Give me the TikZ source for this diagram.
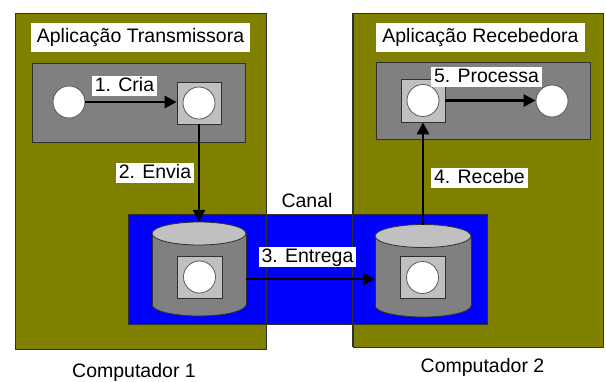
\documentclass[tikz,border=0pt]{standalone}
\usepackage{fontspec}
\setmainfont{Liberation Sans}
\usetikzlibrary{arrows.meta}
\definecolor{olivebox}{HTML}{808000}
\definecolor{procgray}{HTML}{808080}
\definecolor{lightgray2}{HTML}{C0C0C0}
\definecolor{chanblue}{HTML}{0000FF}
\definecolor{edgegray}{HTML}{303030}

% cylinder (message queue): #1 centre x, #2 top end y, #3 bottom end y, #4 half width
\newcommand{\drum}[4]{%
  \draw[outline,fill=procgray] (#1,#3) ellipse [x radius=#4, y radius=11.5];
  \fill[procgray] (#1-#4,#2) rectangle (#1+#4,#3);
  \draw[outline] (#1-#4,#2) -- (#1-#4,#3) (#1+#4,#2) -- (#1+#4,#3);
  \draw[outline,fill=lightgray2] (#1,#2) ellipse [x radius=#4, y radius=11.5];
}

\begin{document}
\begin{tikzpicture}[x=1pt,y=-1pt,
  font=\fontsize{19.5}{22}\selectfont,
  outline/.style={draw=edgegray,line width=0.8pt},
  block/.style={rectangle,inner sep=0pt},
  computer/.style={block,outline,fill=olivebox},
  process/.style={block,outline,fill=procgray},
  msgbox/.style={block,outline,fill=lightgray2,minimum width=44,minimum height=42},
  msg/.style={circle,draw=edgegray!80,line width=0.8pt,fill=white,inner sep=0pt,minimum size=32},
  tag/.style={fill=white,inner xsep=3pt,inner ysep=1.5pt,text height=14pt,text depth=3pt},
  title/.style={fill=white,inner xsep=6pt,inner ysep=5pt,text height=14pt,text depth=4.5pt},
  flow/.style={line width=2.9pt,-{Triangle[length=12pt,width=12pt]}}
]
\useasboundingbox (0,0) rectangle (606,381);
\fill[white] (0,0) rectangle (606,381);

% computers
\node[computer,minimum width=251,minimum height=336] (pc1) at (140.5,181) {};
\node[computer,minimum width=250,minimum height=334] (pc2) at (478,180) {};

% channel
\node[block,outline,fill=chanblue,minimum width=359,minimum height=110] (canal) at (307.5,269) {};
\draw[outline] (pc1.north east) -- (pc1.south east);
\draw[outline] (pc2.north west) -- (pc2.south west);
\node (canallbl) at (307,201) {Canal};

% applications
\node[title] (app1) at (140.5,37.5) {Aplicação Transmissora};
\node[title] (app2) at (480.5,37.5) {Aplicação Recebedora};
\node[process,minimum width=213,minimum height=79] (proc1) at (138.5,102.5) {};
\node[process,minimum width=214,minimum height=77] (proc2) at (483,100.5) {};

% messages in the sending application
\node[msg] (m1) at (69,102) {};
\node[msgbox] (sq1) at (199,103) {};
\node[msg] (m2) at (sq1) {};

% messages in the receiving application
\node[msgbox,minimum height=43] (sq2) at (423,100.5) {};
\node[msg] (m3) at (sq2) {};
\node[msg] (m4) at (552,101) {};

% queues
\drum{199}{233.5}{304.5}{47}
\drum{423}{236}{305.5}{48}
\node[block,minimum width=94,minimum height=94] (qA) at (199,269) {};
\node[block,minimum width=96,minimum height=92] (qB) at (423,271) {};
\node[msgbox,minimum width=45] (sqA) at (199.5,277) {};
\node[msg] (mA) at (sqA) {};
\node[msgbox,minimum width=45] (sqB) at (422.5,277.5) {};
\node[msg] (mB) at (sqB) {};

% flow of the message
\draw[flow] (m1.east) -- (m1.east -| sq1.west);
\draw[flow] (sq1.south) -- (qA.north);
\draw[flow] ([yshift=-2pt]sqA -| qA.east) -- ([yshift=-2pt]sqA -| qB.west);
\draw[flow] (qB.north) -- (sq2.south);
\draw[flow] (sq2.east) -- (sq2.east -| m4.west);

% step labels
\node[tag] (t1) at (124.5,85.5) {1. Cria};
\node[tag] (t2) at (155,173) {2. Envia};
\node[tag] (t3) at (307.5,256.5) {3. Entrega};
\node[tag] (t4) at (479.5,177.5) {4. Recebe};
\node[tag] (t5) at (486.5,76.5) {5. Processa};

% computer names
\node (pc1lbl) at (134,372) {Computador 1};
\node (pc2lbl) at (482.5,367) {Computador 2};
\end{tikzpicture}
\end{document}
